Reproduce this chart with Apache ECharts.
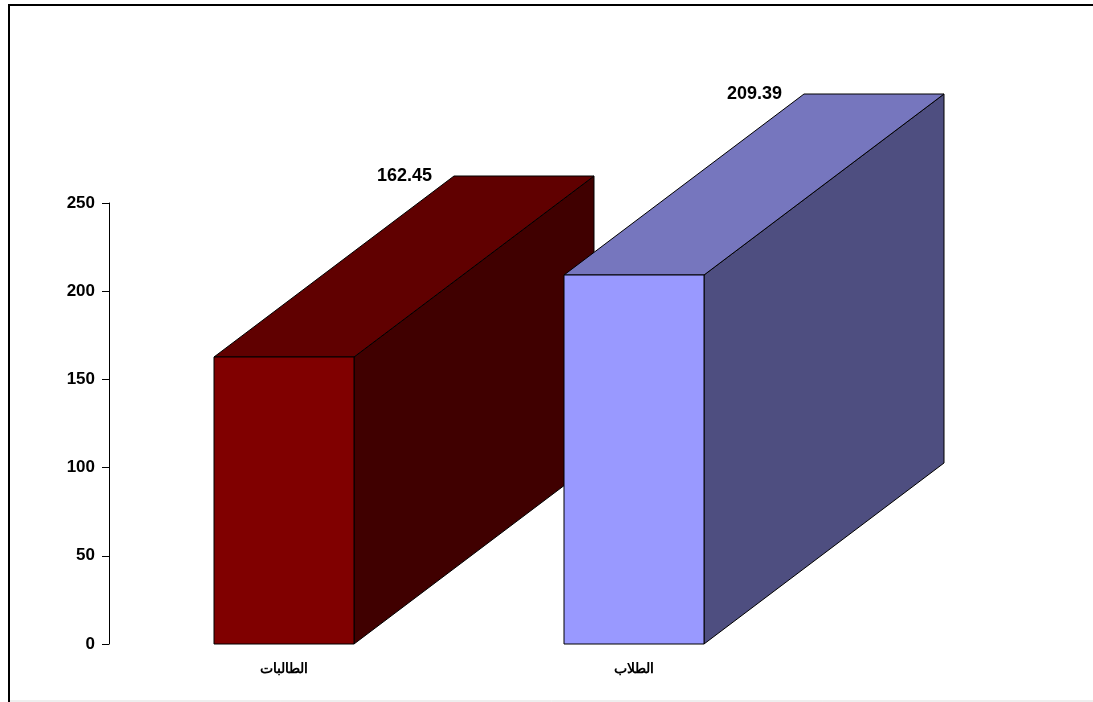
<!DOCTYPE html>
<html>
<head>
<meta charset="utf-8">
<script src="https://cdn.jsdelivr.net/npm/echarts@6/dist/echarts.min.js"></script>
<style>html,body{margin:0;padding:0;background:#fff}#c{width:1093px;height:702px}</style>
</head>
<body>
<div id="c"></div>
<script>
var categories = ['الطالبات', 'الطلاب'];
var values = [162.45, 209.39];
var valueLabels = ['162.45', '209.39'];
var yTicks = [0, 50, 100, 150, 200, 250];

var frontColors = ['#800000', '#9999FF'];
var topColors = ['#600000', '#7676BE'];
var sideColors = ['#400000', '#4E4E80'];
var DX = 240, DY = -181;

var chart = echarts.init(document.getElementById('c'));
chart.setOption({
  animation: false,
  backgroundColor: '#fff',
  grid: {left: 109, width: 700, top: 203, bottom: 58},
  xAxis: {
    type: 'category', data: categories,
    axisLine: {show: false}, axisTick: {show: false},
    axisLabel: {margin: 18, fontFamily: 'sans-serif', fontWeight: 'bold', fontSize: 14,
      color: '#000'}
  },
  yAxis: {
    type: 'value', min: yTicks[0], max: yTicks[yTicks.length - 1], interval: 50,
    axisLine: {show: true, lineStyle: {color: '#000', width: 1}},
    axisTick: {show: true, length: 7, lineStyle: {color: '#000'}},
    splitLine: {show: false},
    axisLabel: {margin: 14, fontFamily: 'Liberation Sans', fontWeight: 'bold', fontSize: 17, color: '#000'}
  },
  graphic: [
    {type: 'line', shape: {x1: 9, y1: 5, x2: 9, y2: 702}, style: {stroke: '#000', lineWidth: 2}, z: 100},
    {type: 'line', shape: {x1: 8, y1: 5, x2: 1093, y2: 5}, style: {stroke: '#000', lineWidth: 2}, z: 100},
    {type: 'line', shape: {x1: 10, y1: 701, x2: 1093, y2: 701}, style: {stroke: '#ddd', lineWidth: 1}, z: 100}
  ],
  series: [{
    type: 'custom',
    data: values.map(function (v, i) { return [i, v]; }),
    renderItem: function (params, api) {
      var i = params.dataIndex;
      var top = api.coord([api.value(0), api.value(1)]);
      var base = api.coord([api.value(0), 0]);
      var w = api.size([1, 0])[0] * 0.402;
      var x0 = Math.round(top[0] - w / 2), x1 = Math.round(top[0] + w / 2);
      var yt = Math.round(top[1]), yb = Math.round(base[1]);
      var st = {stroke: '#000', lineWidth: 1};
      return {
        type: 'group',
        children: [
          {type: 'polygon', shape: {points: [[x1, yt], [x1 + DX, yt + DY], [x1 + DX, yb + DY], [x1, yb]]},
            style: Object.assign({fill: sideColors[i]}, st)},
          {type: 'polygon', shape: {points: [[x0, yt], [x0 + DX, yt + DY], [x1 + DX, yt + DY], [x1, yt]]},
            style: Object.assign({fill: topColors[i]}, st)},
          {type: 'rect', shape: {x: x0, y: yt, width: x1 - x0, height: yb - yt},
            style: Object.assign({fill: frontColors[i]}, st)},
          {type: 'text', x: x0 + DX - 22, y: yt + DY,
            style: {text: valueLabels[i], align: 'right', verticalAlign: 'middle',
              font: 'bold 18px "Liberation Sans"', fill: '#000'}}
        ]
      };
    }
  }]
});
</script>
</body>
</html>
